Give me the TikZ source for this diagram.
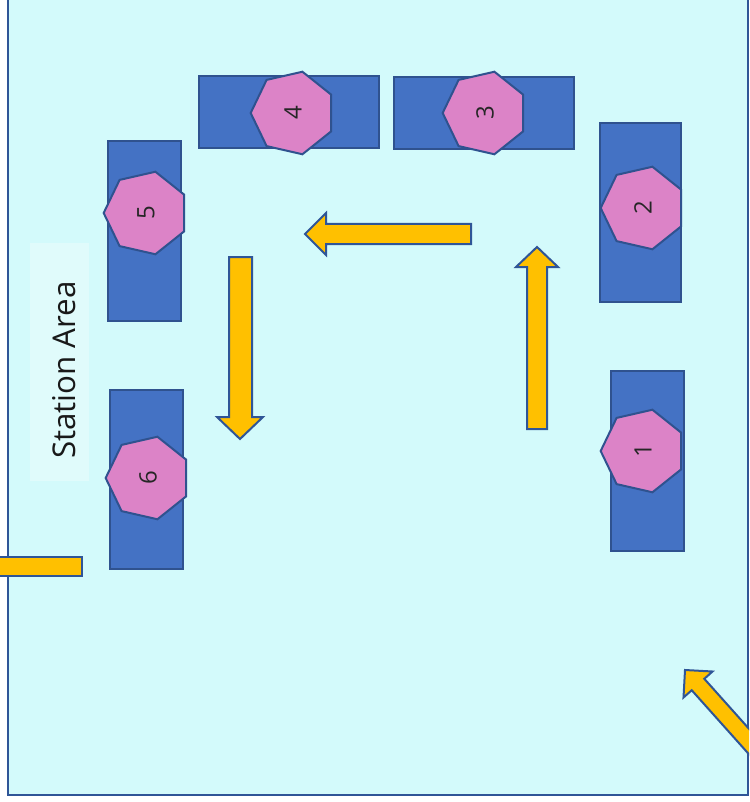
\documentclass[tikz,border=0pt]{standalone}
\usepackage{fontspec}
\setmainfont{Open Sans}
\usetikzlibrary{shapes.geometric}
\definecolor{floorbg}{HTML}{D3FAFB}
\definecolor{labelbg}{HTML}{E0FBFB}
\definecolor{frameblue}{HTML}{2F5597}
\definecolor{stationblue}{HTML}{4472C4}
\definecolor{stationedge}{HTML}{2F528F}
\definecolor{robotpink}{HTML}{DC83C7}
\definecolor{arrowgold}{HTML}{FFC000}
\begin{document}
\begin{tikzpicture}[x=0.75pt, y=-0.75pt,
    station/.style={rectangle, draw=stationedge, fill=stationblue, line width=1.5pt, inner sep=0pt},
    robot/.style={regular polygon, regular polygon sides=7, draw=stationedge, fill=robotpink, line width=1.5pt,
      minimum size=63.5pt, inner sep=0pt, rotate=90, text=black!85, font=\fontsize{18}{21}\selectfont},
    flow/.style={draw=frameblue, fill=arrowgold, line width=1.5pt}]
  \useasboundingbox (0,0) rectangle (749,802);
  \clip (0,0) rectangle (749,802);

  % floor
  \draw[line width=1.5pt, draw=frameblue, fill=floorbg] (8,-10) rectangle (748,795);
  \node[fill=labelbg, minimum width=44.25pt, minimum height=178.5pt, inner sep=0pt] (areabox) at (59.5,362) {};
  \node[rotate=90, text=black!90, font=\fontsize{23.5}{28}\selectfont] (arealabel) at (64,370) {Station Area};

  % stations
  \node[station, minimum width=135pt, minimum height=54pt] (s4) at (289,112) {};
  \node[station, minimum width=135pt, minimum height=54pt] (s3) at (484,113) {};
  \node[station, minimum width=60.75pt, minimum height=134.25pt] (s2) at (640.5,212.5) {};
  \node[station, minimum width=54.75pt, minimum height=135pt] (s5) at (144.5,231) {};
  \node[station, minimum width=54.75pt, minimum height=134.25pt] (s6) at (146.5,479.5) {};
  \node[station, minimum width=54.75pt, minimum height=135pt] (s1) at (647.5,461) {};

  \node[robot] (r4) at (293,113) {4};
  \node[robot] (r3) at (485,113) {3};
  \node[robot] (r2) at (643,208) {2};
  \node[robot] (r5) at (146,213) {5};
  \node[robot] (r6) at (148,478) {6};
  \node[robot] (r1) at (643,451) {1};

  % flow arrows
  \draw[flow] (471,224) -- (326,224) -- (326,213) -- (305,234) -- (326,255) -- (326,244) -- (471,244) -- cycle;
  \draw[flow] (229,257) -- (252,257) -- (252,417) -- (263,417) -- (240,439) -- (217,417) -- (229,417) -- cycle;
  \draw[flow] (527,429) -- (527,267) -- (516,267) -- (537,247) -- (558,267) -- (547,267) -- (547,429) -- cycle;
  \draw[flow] (-10,557) rectangle (82,576);
  \draw[flow] (784.3,768.3) -- (704.3,678.8) -- (712.5,671.5) -- (685,670) -- (683.5,697.5) -- (691.7,690.2) -- (771.7,779.7) -- cycle;
\end{tikzpicture}
\end{document}
